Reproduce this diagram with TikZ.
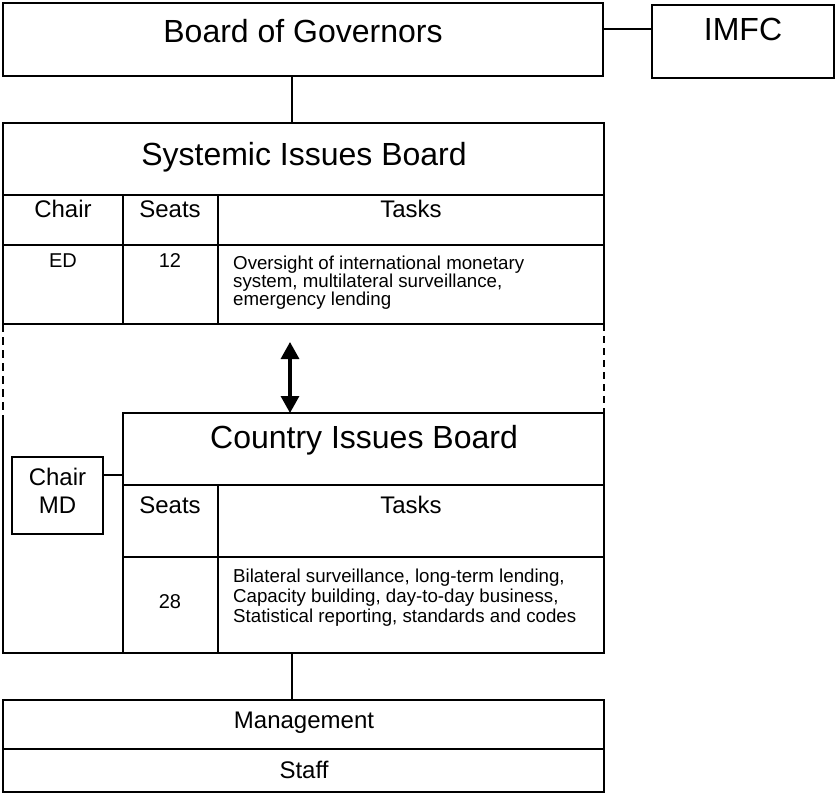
\documentclass[tikz,border=0pt]{standalone}
\usepackage{fontspec}
\setmainfont{Liberation Sans}
\usetikzlibrary{arrows.meta}
\newcommand\ftitle{\fontsize{32}{38}\selectfont}
\newcommand\fmid{\fontsize{24}{28}\selectfont}
\newcommand\fnum{\fontsize{20}{22}\selectfont}
\newcommand\ftaskA{\fontsize{18.7}{18}\selectfont}
\newcommand\ftaskB{\fontsize{18.7}{20}\selectfont}
\begin{document}
\begin{tikzpicture}[x=1pt,y=-1pt,
  cell/.style={draw, line width=1.6pt, inner sep=0pt, outer sep=0pt, anchor=north west},
  conn/.style={line width=1.6pt},
  dashA/.style={line width=1.5pt, dash pattern=on 8pt off 5pt},
  dashB/.style={line width=2.5pt, dash pattern=on 7pt off 5pt},
  dbl/.style={{Triangle[width=18pt,length=17pt]}-{Triangle[width=18pt,length=17pt]}, line width=3.2pt},
  lbl/.style={inner sep=0pt, anchor=base},
  task/.style={inner sep=0pt, anchor=north west, align=left}]
\useasboundingbox (0,0) rectangle (836,793);
% boxes
\node[cell, minimum width=600pt, minimum height=73pt] (bog) at (3,3) {};
\node[cell, minimum width=182pt, minimum height=73pt] (imfc) at (652,5) {};
\node[cell, minimum width=601pt, minimum height=72pt] (sibt) at (3,123) {};
\node[cell, minimum width=120pt, minimum height=50pt] (sibc1) at (3,195) {};
\node[cell, minimum width=95pt, minimum height=50pt] (sibc2) at (123,195) {};
\node[cell, minimum width=386pt, minimum height=50pt] (sibc3) at (218,195) {};
\node[cell, minimum width=120pt, minimum height=79pt] (sibd1) at (3,245) {};
\node[cell, minimum width=95pt, minimum height=79pt] (sibd2) at (123,245) {};
\node[cell, minimum width=386pt, minimum height=79pt] (sibd3) at (218,245) {};
\node[cell, minimum width=481pt, minimum height=72pt] (cibt) at (123,413) {};
\node[cell, minimum width=95pt, minimum height=72pt] (cibc2) at (123,485) {};
\node[cell, minimum width=386pt, minimum height=72pt] (cibc3) at (218,485) {};
\node[cell, minimum width=95pt, minimum height=96pt] (cibd2) at (123,557) {};
\node[cell, minimum width=386pt, minimum height=96pt] (cibd3) at (218,557) {};
\node[cell, minimum width=91pt, minimum height=77pt] (chmd) at (12,457) {};
\node[cell, minimum width=601pt, minimum height=49pt] (mgmt) at (3,700) {};
\node[cell, minimum width=601pt, minimum height=43pt] (staff) at (3,749) {};
% texts
\node[lbl, font=\ftitle] (tbog) at (303,42) {Board of Governors};
\node[lbl, font=\ftitle] (timfc) at (743,40) {IMFC};
\node[lbl, font=\ftitle] (tsib) at (304,165) {Systemic Issues Board};
\node[lbl, font=\fmid] (tch) at (63,217) {Chair};
\node[lbl, font=\fmid] (tse) at (170,217) {Seats};
\node[lbl, font=\fmid] (tta) at (411,217) {Tasks};
\node[lbl, font=\fnum] (ted) at (63,267) {ED};
\node[lbl, font=\fnum] (t12) at (170,267) {12};
\node[task, font=\ftaskA] (ttaskA) at (233,255.3) {Oversight of international monetary\\system, multilateral surveillance,\\emergency lending};
\node[lbl, font=\ftitle] (tcib) at (364,448) {Country Issues Board};
\node[inner sep=0pt, anchor=north, align=center, font=\fmid] (tchmd) at (57.5,467.5) {Chair\\MD};
\node[lbl, font=\fmid] (tse2) at (170,513) {Seats};
\node[lbl, font=\fmid] (tta2) at (411,513) {Tasks};
\node[lbl, font=\fnum] (t28) at (170,608) {28};
\node[task, font=\ftaskB] (ttaskB) at (233,568.3) {Bilateral surveillance, long-term lending,\\Capacity building, day-to-day business,\\Statistical reporting, standards and codes};
\node[lbl, font=\fmid] (tmg) at (304,728) {Management};
\node[lbl, font=\fmid] (tst) at (304,778) {Staff};
% connectors
\coordinate (lv1) at (0,29);
\draw[conn] (bog.east |- lv1) -- (imfc.west |- lv1);
\coordinate (vx) at (292,0);
\draw[conn] (vx |- bog.south) -- (vx |- sibt.north);
\draw[conn] (vx |- cibd3.south) -- (vx |- mgmt.north);
\coordinate (atop) at (290,342);
\draw[dbl] (atop) -- (atop |- cibt.north);
\coordinate (lv2) at (0,475);
\draw[conn] (chmd.east |- lv2) -- (cibt.west |- lv2);
\coordinate (lcorner) at (3,415);
\draw[dashA] (sibd1.south west) -- (lcorner);
\draw[conn] (lcorner) -- (lcorner |- cibd2.south) -- (cibd2.south west);
\draw[dashB] (sibd3.south east) -- (cibt.north east);
\end{tikzpicture}
\end{document}
